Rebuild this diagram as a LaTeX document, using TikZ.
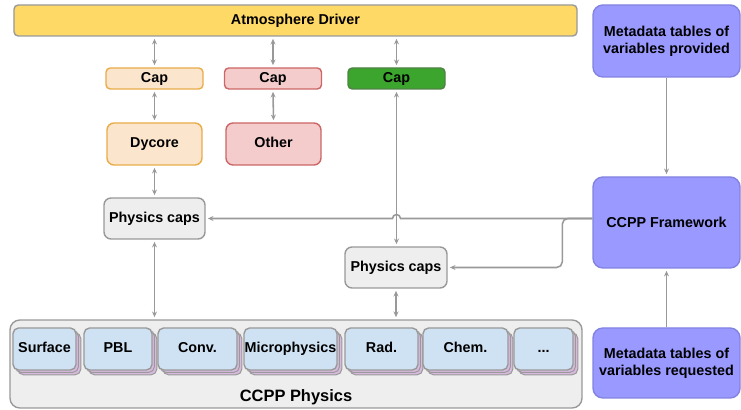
\documentclass[tikz,border=0pt]{standalone}
\usepackage{fontspec}
\setmainfont{Liberation Sans}
\usepackage{tikz}
\usetikzlibrary{positioning, arrows.meta, calc, shadows}
\definecolor{driverfill}{RGB}{255,217,102}
\definecolor{dycorefill}{RGB}{252,229,205}
\definecolor{dycoreline}{RGB}{232,172,72}
\definecolor{otherfill}{RGB}{244,204,204}
\definecolor{otherline}{RGB}{205,102,102}
\definecolor{capgreen}{RGB}{60,165,45}
\definecolor{capgreenline}{RGB}{80,130,70}
\definecolor{capsfill}{RGB}{238,238,238}
\definecolor{linegray}{RGB}{153,153,153}
\definecolor{framefill}{RGB}{153,153,255}
\definecolor{frameline}{RGB}{130,130,225}
\definecolor{schemefill}{RGB}{207,226,243}
\definecolor{schemeback}{RGB}{216,186,222}

\begin{document}
\begin{tikzpicture}[>={Stealth[length=4pt, width=3.5pt]},
    font=\fontsize{10.2}{12.2}\selectfont\bfseries,
    box/.style={draw=linegray, line width=1pt, rounded corners=3pt, inner sep=0pt, align=center},
    oneline/.style={text height=0.72em, text depth=0.21em},
    capbox/.style={box, oneline, minimum width=2.425cm, minimum height=0.525cm},
    modbox/.style={box, oneline, minimum width=2.375cm, minimum height=1.05cm, rounded corners=5pt},
    pcaps/.style={box, oneline, fill=capsfill, minimum width=2.55cm, minimum height=1.025cm, rounded corners=5pt},
    meta/.style={box, draw=frameline, fill=framefill, rounded corners=7pt, minimum width=3.675cm},
    scheme/.style={box, oneline, fill=schemefill, minimum height=1.05cm, rounded corners=4pt,
        double copy shadow={shadow xshift=0.06cm, shadow yshift=-0.06cm, fill=schemeback, draw=linegray, line width=0.7pt}},
    link/.style={<->, linegray, line width=1.1pt, shorten <=1.5pt, shorten >=1.5pt},
    flow/.style={->, linegray, line width=1.1pt, shorten >=1.5pt}]

\useasboundingbox (0,0) rectangle (18.525,10.25);

% Atmosphere Driver
\node[box, oneline, fill=driverfill, minimum width=14.075cm, minimum height=0.775cm] (driver) at (7.3875,9.7375) {Atmosphere Driver};

% Caps
\node[capbox, draw=dycoreline, fill=dycorefill] (capA) at (3.8625,8.2875) {Cap};
\node[capbox, draw=otherline, fill=otherfill] (capB) at (6.825,8.2875) {Cap};
\node[capbox, draw=capgreenline, fill=capgreen] (capC) at (9.9125,8.2875) {Cap};

% Dycore et Other
\node[modbox, draw=dycoreline, fill=dycorefill] (dycore) at (3.8625,6.65) {Dycore};
\node[modbox, draw=otherline, fill=otherfill] (other) at (6.8375,6.65) {Other};

% Physics caps
\node[pcaps, minimum width=2.525cm] (pcA) at (3.8625,4.7875) {Physics caps};
\node[pcaps] (pcB) at (9.9,3.5625) {Physics caps};

% CCPP Physics
\node[box, fill=capsfill, minimum width=14.3cm, minimum height=2.2cm, rounded corners=7pt] (physics) at (7.4,1.15) {};
\node (physlabel) at (7.4,0.32) {\fontsize{11.7}{14}\selectfont CCPP Physics};
\foreach \name/\x/\w/\label in {surf/1.1125/1.575/Surface, pbl/2.95/1.7/PBL, conv/4.9375/1.975/Conv.,
    micro/7.2625/2.325/Microphysics, rad/9.5375/1.825/Rad., chem/11.6375/2.125/Chem.} {
    \node[scheme, minimum width=\w cm] (\name) at (\x,1.525) {\label};
}
\node[scheme, minimum width=1.475cm] (more) at (13.5875,1.525) {...};

% Framework et metadata
\node[meta, minimum height=1.8cm] (metaP) at (16.6625,9.225) {Metadata tables of\\variables provided};
\node[meta, minimum height=2.275cm] (frame) at (16.6625,4.6875) {CCPP Framework};
\node[meta, minimum height=1.75cm] (metaR) at (16.6625,1.175) {Metadata tables of\\variables requested};

% Liens
\foreach \c in {capA, capB, capC} {
    \draw[link] (\c.north |- driver.south) -- (\c.north);
}
\draw[link] (capA.south) -- (dycore.north);
\draw[link] (capB.south) -- (other.north);
\draw[link] (dycore.south) -- (pcA.north);
\draw[link] (capC.south) -- (capC.south |- pcB.north);
\draw[link] (pcA.south) -- (pcA.south |- physics.north);
\draw[link] (pcB.south) -- (pcB.south |- physics.north);

\draw[flow] (metaP.south) -- (frame.north);
\draw[flow] (metaR.north) -- (frame.south);
\draw[flow] (frame.west |- pcA.east) -- ($(capC.south |- pcA.east)+(0.1,0)$)
    arc[start angle=0, end angle=180, radius=0.1] -- (pcA.east);
\draw[flow, rounded corners=4pt] (frame.west |- pcA.east) -- ++(-0.75,0) |- (pcB.east);

\end{tikzpicture}
\end{document}
